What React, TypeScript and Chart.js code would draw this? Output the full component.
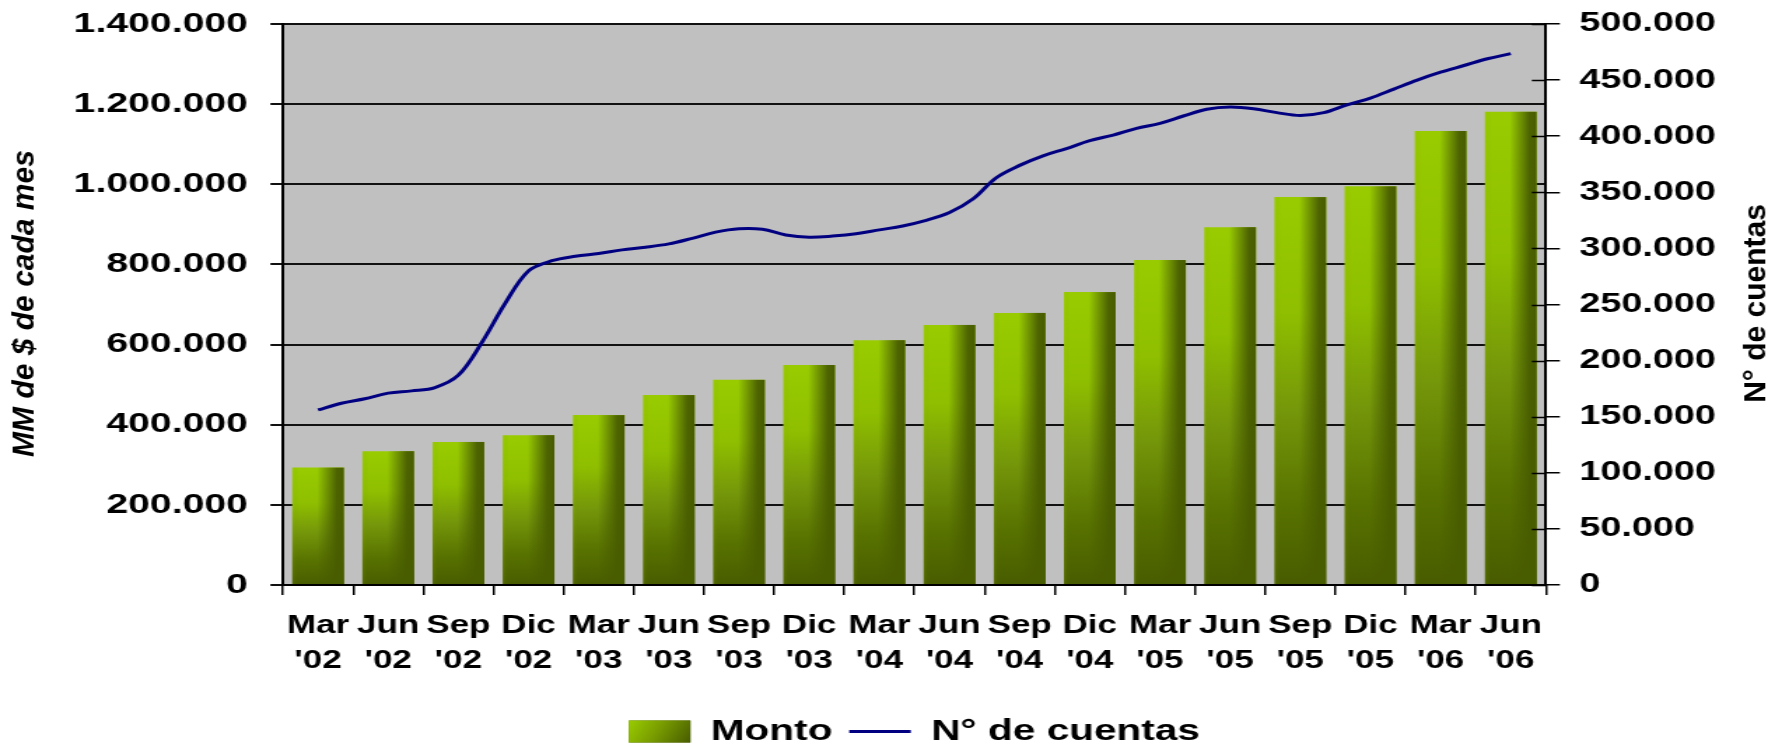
import React, { useEffect, useRef } from "react";
import { Chart, registerables } from "chart.js";

Chart.register(...registerables);

// ---------- data ----------
const categorias: string[][] = [
  ["Mar", "'02"], ["Jun", "'02"], ["Sep", "'02"], ["Dic", "'02"],
  ["Mar", "'03"], ["Jun", "'03"], ["Sep", "'03"], ["Dic", "'03"],
  ["Mar", "'04"], ["Jun", "'04"], ["Sep", "'04"], ["Dic", "'04"],
  ["Mar", "'05"], ["Jun", "'05"], ["Sep", "'05"], ["Dic", "'05"],
  ["Mar", "'06"], ["Jun", "'06"],
];

// Monto (MM de $ de cada mes), one value per quarter
const monto: number[] = [
  293000, 334000, 357000, 374000, 424000, 474000, 512000, 549000, 611000,
  649000, 679000, 731000, 811000, 893000, 968000, 995000, 1133000, 1181000,
];

// N° de cuentas, monthly readings from Mar '02 to Jun '06 (3 per quarter)
const cuentasMensual: number[] = [
  156000, 162000, 166000, 171000, 173000, 176000, 187000, 216000, 251000,
  280000, 289000, 293000, 295500, 298700, 301000, 304000, 309000, 314500,
  317500, 317000, 312000, 310000, 311000, 313000, 316500, 320000, 325000,
  332000, 344000, 363000, 374000, 382500, 389000, 396000, 401000, 407000,
  411500, 418000, 424000, 426000, 424500, 421000, 418500, 421000, 428000,
  434000, 442000, 450000, 457000, 463000, 469000, 473600,
];

const montoMax = 1400000;
const montoPaso = 200000;
const cuentasMax = 500000;
const cuentasPaso = 50000;

const tituloIzq = "MM de $ de cada mes";
const tituloDer = "N° de cuentas";
const serieMonto = "Monto";
const serieCuentas = "N° de cuentas";

// ---------- layout ----------
const STRETCH = 1.4;
const CSS_W = 1768;
const H = 746;
const W = Math.round(CSS_W / STRETCH);
const PLOT_LEFT = 283 / STRETCH;
const PLOT_RIGHT = 1546 / STRETCH;
const FAMILY = "'Liberation Sans', Arial, Helvetica, sans-serif";

const fmt = (v: number) =>
  String(Math.round(v)).replace(/\B(?=(\d{3})+(?!\d))/g, ".");

const plotBg = {
  id: "plotBg",
  beforeDraw(chart: any) {
    const { ctx, chartArea } = chart;
    if (!chartArea) return;
    ctx.save();
    ctx.fillStyle = "#c0c0c0";
    ctx.fillRect(chartArea.left, chartArea.top, chartArea.right - chartArea.left, chartArea.bottom - chartArea.top);
    ctx.restore();
  },
};

const barShade = {
  id: "barShade",
  afterDatasetDraw(chart: any, args: any) {
    if (args.index !== 0) return;
    const { ctx } = chart;
    const meta = chart.getDatasetMeta(0);
    ctx.save();
    meta.data.forEach((el: any) => {
      const { x, y, base, width } = el.getProps(["x", "y", "base", "width"], true);
      const l = x - width / 2;
      const g = ctx.createLinearGradient(l, 0, l + width, 0);
      g.addColorStop(0, "rgba(160,210,0,0.15)");
      g.addColorStop(0.12, "rgba(72,92,0,0)");
      g.addColorStop(0.48, "rgba(72,92,0,0)");
      g.addColorStop(0.86, "rgba(72,92,0,0.93)");
      g.addColorStop(1, "rgba(72,92,0,1)");
      ctx.fillStyle = g;
      ctx.fillRect(l, y, width, base - y);
    });
    ctx.restore();
  },
};

const innerTicks = {
  id: "innerTicks",
  afterDatasetsDraw(chart: any) {
    const { ctx, chartArea } = chart;
    const s = chart.scales.y1;
    if (!s || !chartArea) return;
    ctx.save();
    ctx.strokeStyle = "#000";
    ctx.lineWidth = 1.5;
    s.ticks.forEach((t: any) => {
      const py = Math.round(s.getPixelForValue(t.value)) + 0.5;
      ctx.beginPath();
      ctx.moveTo(chartArea.right - 10, py);
      ctx.lineTo(chartArea.right, py);
      ctx.stroke();
    });
    ctx.restore();
  },
};

const drawVerticalTitle = (ctx: any, text: string, x: number, y: number, font: string) => {
  ctx.save();
  ctx.translate(x, y);
  ctx.rotate(-Math.PI / 2);
  ctx.scale(1, 1 / STRETCH);
  ctx.font = font;
  ctx.fillStyle = "#000";
  ctx.textAlign = "center";
  ctx.textBaseline = "alphabetic";
  ctx.fillText(text, 0, 0);
  ctx.restore();
};

const extras = {
  id: "extras",
  afterDraw(chart: any) {
    const { ctx, chartArea } = chart;
    // legend gradient box for the bar series
    const lg = chart.legend;
    if (lg && lg.legendHitBoxes && lg.legendHitBoxes.length) {
      const hb = lg.legendHitBoxes[0];
      const bw = 44, bh = 22;
      const fs = 29;
      const cy = hb.top + fs / 2;
      const x0 = hb.left, y0 = cy - bh / 2;
      const g = ctx.createLinearGradient(x0, y0, x0 + bw, y0 + bh);
      g.addColorStop(0, "#99cc00");
      g.addColorStop(0.45, "#7a9e00");
      g.addColorStop(1, "#485c00");
      ctx.save();
      ctx.fillStyle = g;
      ctx.fillRect(x0, y0, bw, bh);
      ctx.restore();
    }
    if (chartArea) {
      const cy = (chartArea.top + chartArea.bottom) / 2 - 1;
      drawVerticalTitle(ctx, tituloIzq, 33 / STRETCH, cy, `italic bold 30px ${FAMILY}`);
      drawVerticalTitle(ctx, tituloDer, 1766 / STRETCH, cy, `bold 30px ${FAMILY}`);
    }
  },
};

export default function App() {
  const ref = useRef<HTMLCanvasElement | null>(null);

  useEffect(() => {
    const canvas = ref.current;
    if (!canvas) return;

    const barColor = (c: any) => {
      const chart = c.chart;
      if (!chart.chartArea || c.type !== "data") return "#7a9e00";
      const ys = chart.scales.y;
      const top = ys.getPixelForValue(c.raw);
      const base = ys.getPixelForValue(0);
      const g = chart.ctx.createLinearGradient(0, top, 0, base);
      g.addColorStop(0, "#99cc00");
      g.addColorStop(0.3, "#8fbf00");
      g.addColorStop(0.55, "#75970a");
      g.addColorStop(0.8, "#587200");
      g.addColorStop(1, "#485c00");
      return g;
    };

    const chart = new Chart(canvas, {
      type: "bar",
      data: {
        labels: categorias,
        datasets: [
          {
            type: "bar",
            label: serieMonto,
            data: monto,
            backgroundColor: barColor,
            borderWidth: 0,
            grouped: false,
            categoryPercentage: 0.737,
            barPercentage: 1,
            yAxisID: "y",
            xAxisID: "x",
            order: 1,
            pointStyle: "rect",
          } as any,
          {
            type: "line",
            label: serieCuentas,
            data: cuentasMensual.map((v, i) => ({ x: i / 3, y: v })),
            borderColor: "#000080",
            backgroundColor: "#000080",
            borderWidth: 3,
            pointRadius: 0,
            pointStyle: "line",
            tension: 0.35,
            fill: false,
            yAxisID: "y1",
            xAxisID: "xLine",
            order: 0,
          } as any,
        ],
      },
      options: {
        responsive: false,
        maintainAspectRatio: false,
        devicePixelRatio: 1,
        animation: false,
        layout: { padding: { top: 24, left: 0, right: 0, bottom: -10 } },
        plugins: {
          tooltip: { enabled: false },
          legend: {
            position: "bottom",
            fullSize: false,
            labels: {
              usePointStyle: true,
              pointStyleWidth: 44,
              boxHeight: 22,
              padding: 12,
              color: "#000",
              font: { family: FAMILY, size: 29, weight: "bold" },
              sort: (a: any, b: any) => a.datasetIndex - b.datasetIndex,
            },
          },
        },
        scales: {
          x: {
            type: "category",
            position: "bottom",
            afterFit: (s: any) => { s.height = 120; s.paddingLeft = 0; s.paddingRight = 0; },
            grid: { offset: true, drawOnChartArea: false, drawTicks: true, tickLength: 10, color: "#000", lineWidth: 1.5 },
            border: { display: true, color: "#000", width: 2 },
            ticks: {
              autoSkip: false,
              maxRotation: 0,
              minRotation: 0,
              padding: 14,
              color: "#000",
              font: { family: FAMILY, size: 25, weight: "bold", lineHeight: 1.4 },
            },
          },
          xLine: {
            type: "linear",
            display: false,
            offset: false,
            bounds: "data",
            grid: { offset: false },
            min: -0.5,
            max: categorias.length - 0.5,
          },
          y: {
            type: "linear",
            position: "left",
            min: 0,
            max: montoMax,
            afterFit: (s: any) => { s.width = PLOT_LEFT; s.paddingTop = 0; s.paddingBottom = 0; },
            grid: { color: "#111", lineWidth: 2, tickLength: 9, drawTicks: true },
            border: { display: true, color: "#000", width: 2 },
            ticks: {
              stepSize: montoPaso,
              padding: 16,
              color: "#000",
              font: { family: FAMILY, size: 28, weight: "bold" },
              callback: (v: any) => fmt(Number(v)),
            },
          },
          y1: {
            type: "linear",
            position: "right",
            min: 0,
            max: cuentasMax,
            afterFit: (s: any) => { s.width = W - PLOT_RIGHT; s.paddingTop = 0; s.paddingBottom = 0; },
            grid: { drawOnChartArea: false, color: "#000", lineWidth: 1.5, tickLength: 10 },
            border: { display: true, color: "#000", width: 2 },
            ticks: {
              stepSize: cuentasPaso,
              padding: 14,
              color: "#000",
              font: { family: FAMILY, size: 27, weight: "bold" },
              callback: (v: any) => fmt(Number(v)),
            },
          },
        },
      },
      plugins: [plotBg, barShade, innerTicks, extras],
    } as any);

    return () => chart.destroy();
  }, []);

  return (
    <div style={{ position: "fixed", left: 0, top: 0, width: CSS_W, height: H, background: "#fff" }}>
      <canvas
        ref={ref}
        width={W}
        height={H}
        style={{ width: CSS_W + "px", height: H + "px", display: "block" }}
      />
    </div>
  );
}
